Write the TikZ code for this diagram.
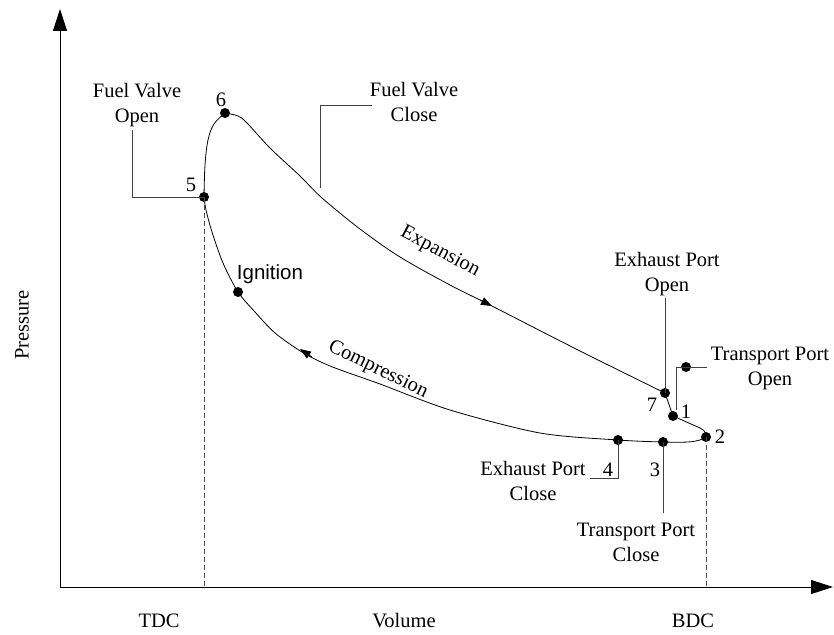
\documentclass[tikz,border=0pt]{standalone}
\usepackage{fontspec}
\setmainfont{Liberation Serif}
\setsansfont{Liberation Sans}
\usetikzlibrary{arrows.meta}
\tikzset{
  curve/.style={line width=0.8pt, black},
  leader/.style={line width=0.8pt, black!75},
  dashline/.style={line width=0.7pt, black!70, dash pattern=on 5pt off 3pt},
  dot/.style={circle, fill=black, inner sep=0pt, minimum size=10pt},
  lbl/.style={font=\fontsize{20.5}{25}\selectfont, align=center, inner sep=0pt},
  axis/.style={line width=0.8pt, -{Triangle[length=22pt,width=14pt]}},
  tip/.style={line width=0.8pt, -{Triangle[length=11pt,width=8pt]}}
}
\begin{document}
\begin{tikzpicture}[x=1pt,y=-1pt]
\useasboundingbox (0,0) rectangle (834,634);
% axes
\coordinate (O) at (60,587);
\coordinate (ytop) at (60,9);
\coordinate (xend) at (833,587);
\draw[axis] (O) -- (ytop);
\draw[axis] (O) -- (xend);
% state points
\node[dot] (p6) at (225,113) {};
\node[dot] (p5) at (204,197) {};
\node[dot] (pig) at (238,292) {};
\node[dot] (p7) at (665,393) {};
\node[dot] (p1) at (673,416) {};
\node[dot] (p2) at (706,437) {};
\node[dot] (p3) at (663,442) {};
\node[dot] (p4) at (618,440) {};
\node[dot] (ptpo) at (686,367) {};
% cycle
\draw[curve] plot[smooth, tension=0.6] coordinates {(204,197) (205,165) (208,140) (214,124) (225,113)};
\draw[curve] plot[smooth, tension=0.55] coordinates {(225,113) (238,116) (247,123) (270,148) (300,176) (322,198) (360,229) (400,257) (450,285) (490,305) (580,351) (665,393)};
\draw[curve] (p7.center) -- (p1.center) -- (700,428) .. controls (705,431) .. (p2.center);
\draw[curve] plot[smooth, tension=0.5] coordinates {(706,437) (700,440) (688,442) (663,442) (618,440) (540,433) (450,410) (380,384) (330,366) (302,352) (275,333) (255,312) (238,292) (223,263) (212,232) (206,210) (204,197)};
% direction arrows
\coordinate (ea) at (480,300);
\coordinate (eb) at (492,306);
\draw[tip] (ea) -- (eb);
\coordinate (ca) at (312,357);
\coordinate (cb) at (300,349);
\draw[tip] (ca) -- (cb);
% dashed verticals
\coordinate (tdc) at (204,587);
\coordinate (bdc) at (706,587);
\draw[dashline] (p5.center) -- (tdc);
\draw[dashline] (p2.center) -- (bdc);
% leaders
\coordinate (l5a) at (132,130);
\coordinate (l5b) at (132,197);
\draw[leader] (l5a) -- (l5b) -- (p5.center);
\coordinate (lca) at (372,105);
\coordinate (lcb) at (320,105);
\coordinate (lcc) at (320,188);
\draw[leader] (lca) -- (lcb) -- (lcc);
\coordinate (l7a) at (665,298);
\draw[leader] (l7a) -- (p7.center);
\coordinate (l1a) at (707,367);
\coordinate (l1b) at (676,367);
\coordinate (l1c) at (676,410);
\draw[leader] (l1a) -- (l1b) -- (l1c);
\coordinate (l4a) at (618,478);
\coordinate (l4b) at (590,478);
\draw[leader] (p4.center) -- (l4a) -- (l4b);
\coordinate (l3a) at (663,513);
\draw[leader] (p3.center) -- (l3a);
% texts
\node[lbl] (tfvo) at (137,105) {Fuel Valve\\Open};
\node[lbl] (tfvc) at (414,102) {Fuel Valve\\Close};
\node[lbl] (tepo) at (667,274) {Exhaust Port\\Open};
\node[lbl] (ttpo) at (770,368) {Transport Port\\Open};
\node[lbl] (tepc) at (533,481) {Exhaust Port\\Close};
\node[lbl] (ttpc) at (636,542) {Transport Port\\Close};
\node[lbl] (n6) at (221,100) {6};
\node[lbl] (n5) at (191,185) {5};
\node[lbl] (n7) at (652,405) {7};
\node[lbl] (n1) at (686,412) {1};
\node[lbl] (n2) at (720,437) {2};
\node[lbl] (n4) at (608,470) {4};
\node[lbl] (n3) at (655,470) {3};
\node[lbl, font=\sffamily\fontsize{20.5}{25}\selectfont] (tig) at (270,274) {Ignition};
\node[lbl, rotate=-28] (texp) at (440,252) {Expansion};
\node[lbl, rotate=-26] (tcomp) at (378,370) {Compression};
\node[lbl] (ttdc) at (159,621) {TDC};
\node[lbl] (tvol) at (404,621) {Volume};
\node[lbl] (tbdc) at (693,621) {BDC};
\node[lbl, rotate=90] (tpr) at (22,325) {Pressure};
\end{tikzpicture}
\end{document}
